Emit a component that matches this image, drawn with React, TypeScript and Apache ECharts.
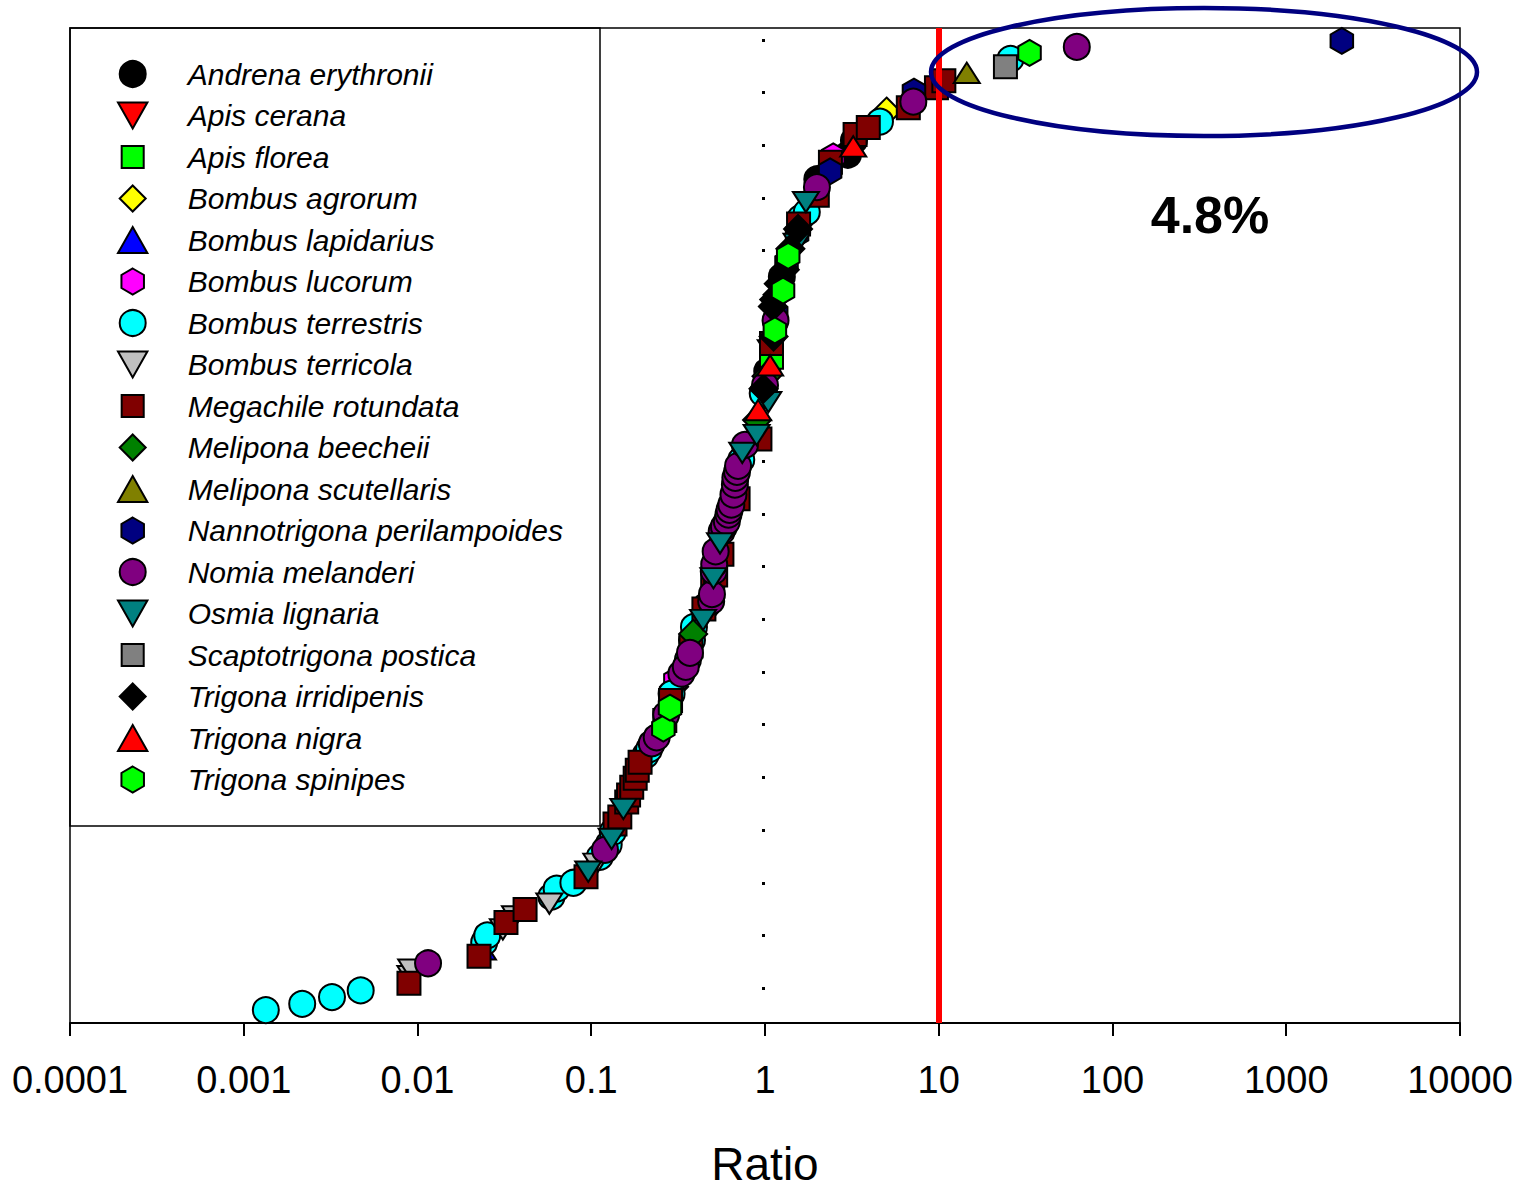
import React, { useEffect, useRef } from "react";
import * as echarts from "echarts";

// ---------- data ----------
const xTickLabels = ["0.0001", "0.001", "0.01", "0.1", "1", "10", "100", "1000", "10000"];
const yTicks = [5, 10, 15, 20, 25, 30, 35, 40, 45, 50, 55, 60, 65, 70, 75, 80, 85, 90, 95];
const threshold = 10;

const andrenaErythronii = [[1.03, 63.55], [1.25, 72.52], [2.0, 81.78], [3.0, 84.1], [3.25, 85.45]];
const apisCerana = [[1.08, 65.53]];
const apisFlorea = [[1.09, 64.87]];
const bombusAgrorum = [[0.3, 33.61], [5.01, 88.2]];
const bombusLapidarius = [[0.0238, 8.68]];
const bombusLucorum = [[0.305, 34.18], [2.47, 83.95]];
const bombusTerrestris = [
  [0.00134, 2.92], [0.00217, 3.51], [0.00322, 4.15], [0.00471, 4.78], [0.0242, 9.34], [0.0252, 10.0],
  [0.059, 13.68], [0.0632, 14.44], [0.0789, 15.0], [0.112, 17.46], [0.126, 18.64], [0.133, 19.82],
  [0.205, 27.09], [0.215, 27.66], [0.29, 32.95], [0.36, 36.16], [0.38, 38.05], [0.39, 39.28],
  [0.46, 41.3], [0.73, 55.14], [0.97, 61.47], [1.6, 78.09], [1.74, 78.66], [4.59, 87.25], [25.9, 93.2],
];
const bombusTerricola = [[0.0091, 6.13], [0.0092, 6.75], [0.031, 10.57], [0.0364, 11.8], [0.0574, 13.02], [0.107, 16.8]];
const megachileRotundata = [
  [0.00893, 5.47], [0.0226, 8.02], [0.0323, 11.23], [0.0416, 12.46], [0.0933, 15.57], [0.137, 20.58],
  [0.146, 21.24], [0.16, 22.66], [0.164, 23.32], [0.171, 24.07], [0.179, 24.92], [0.184, 25.68],
  [0.191, 26.43], [0.265, 30.4], [0.286, 32.29], [0.375, 37.48], [0.445, 40.98], [0.5, 43.15],
  [0.52, 44.2], [0.565, 46.17], [0.7, 51.46], [0.935, 57.13], [1.09, 66.19], [1.56, 77.53],
  [2.0, 80.26], [2.38, 83.38], [3.3, 86.02], [3.93, 86.69], [6.68, 88.57], [9.7, 90.46], [10.7, 91.13],
];
const meliponaBeecheii = [[0.386, 38.62], [0.9, 58.92], [1.02, 63.08]];
const meliponaScutellaris = [[14.5, 91.88]];
const nannotrigonaPerilampoides = [[1.16, 69.03], [1.33, 73.84], [1.53, 76.58], [2.37, 82.53], [7.2, 90.09], [2089, 94.9]];
const nomiaMelanderi = [
  [0.0115, 7.36], [0.12, 18.12], [0.223, 28.23], [0.238, 28.8], [0.27, 30.97], [0.33, 34.84],
  [0.35, 35.5], [0.37, 36.82], [0.49, 41.73], [0.495, 42.39], [0.507, 44.57], [0.51, 45.23],
  [0.52, 46.45], [0.563, 48.34], [0.58, 48.8], [0.603, 49.29], [0.616, 49.95], [0.625, 50.4],
  [0.64, 50.89], [0.658, 51.84], [0.671, 52.78], [0.675, 53.44], [0.69, 54.01], [0.7, 54.57],
  [0.767, 56.56], [1.0, 62.23], [1.15, 68.37], [1.99, 81.02], [7.14, 89.14], [62.3, 94.33],
];
const osmiaLignaria = [
  [0.0961, 16.05], [0.131, 19.16], [0.153, 22.0], [0.44, 39.94], [0.505, 43.9], [0.551, 47.21],
  [0.74, 55.8], [0.895, 57.5], [1.045, 60.62], [1.52, 75.64], [1.72, 79.6],
];
const scaptotrigonaPostica = [[24.2, 92.45]];
const trigonaIrridipenis = [[0.98, 61.9], [1.12, 66.85], [1.11, 69.69], [1.13, 70.35], [1.18, 70.8], [1.2, 71.86], [1.3, 73.18], [1.4, 75.17], [1.55, 77.05]];
const trigonaNigra = [[0.913, 59.87], [1.07, 64.11], [3.22, 84.89]];
const trigonaSpinipes = [[0.26, 29.64], [0.284, 31.63], [1.14, 67.42], [1.27, 71.2], [1.36, 74.5], [33.3, 93.77]];

// ---------- styling ----------
const FONT = "'Liberation Sans', Arial, Helvetica, sans-serif";
const HEX = "path://M0,-1L0.866,-0.5L0.866,0.5L0,1L-0.866,0.5L-0.866,-0.5Z";
const TRI_UP = "path://M13,0L26,23L0,23Z";
const TRI_DOWN = "path://M0,0L26,0L13,23Z";
const RECT = "path://M0,0L1,0L1,1L0,1Z";
const RECT_LEGEND = "path://M0,0L1,0L1,1L0,1Z M-0.09,-0.09L-0.09,-0.09 M1.09,1.09L1.09,1.09";
const DIAM = "path://M1,0L2,1L1,2L0,1Z";

type Sp = { name: string; data: number[][]; color: string; symbol: string; size: any; legendIcon?: string };

const species: Sp[] = [
  { name: "Andrena erythronii", data: andrenaErythronii, color: "#000000", symbol: "circle", size: 26 },
  { name: "Apis cerana", data: apisCerana, color: "#FF0000", symbol: TRI_DOWN, size: [26, 23] },
  { name: "Apis florea", data: apisFlorea, color: "#00FF00", symbol: RECT, size: 23, legendIcon: RECT_LEGEND },
  { name: "Bombus agrorum", data: bombusAgrorum, color: "#FFFF00", symbol: DIAM, size: 28 },
  { name: "Bombus lapidarius", data: bombusLapidarius, color: "#0000FF", symbol: TRI_UP, size: [26, 23] },
  { name: "Bombus lucorum", data: bombusLucorum, color: "#FF00FF", symbol: HEX, size: 26 },
  { name: "Bombus terrestris", data: bombusTerrestris, color: "#00FFFF", symbol: "circle", size: 26 },
  { name: "Bombus terricola", data: bombusTerricola, color: "#C0C0C0", symbol: TRI_DOWN, size: [26, 23] },
  { name: "Megachile rotundata", data: megachileRotundata, color: "#800000", symbol: RECT, size: 23, legendIcon: RECT_LEGEND },
  { name: "Melipona beecheii", data: meliponaBeecheii, color: "#008000", symbol: DIAM, size: 28 },
  { name: "Melipona scutellaris", data: meliponaScutellaris, color: "#808000", symbol: TRI_UP, size: [26, 23] },
  { name: "Nannotrigona perilampoides", data: nannotrigonaPerilampoides, color: "#000080", symbol: HEX, size: 26 },
  { name: "Nomia melanderi", data: nomiaMelanderi, color: "#800080", symbol: "circle", size: 26 },
  { name: "Osmia lignaria", data: osmiaLignaria, color: "#008080", symbol: TRI_DOWN, size: [26, 23] },
  { name: "Scaptotrigona postica", data: scaptotrigonaPostica, color: "#808080", symbol: RECT, size: 23, legendIcon: RECT_LEGEND },
  { name: "Trigona irridipenis", data: trigonaIrridipenis, color: "#000000", symbol: DIAM, size: 28 },
  { name: "Trigona nigra", data: trigonaNigra, color: "#FF0000", symbol: TRI_UP, size: [26, 23] },
  { name: "Trigona spinipes", data: trigonaSpinipes, color: "#00FF00", symbol: HEX, size: 26 },
];

export default function App() {
  const ref = useRef<HTMLDivElement>(null);
  useEffect(() => {
    if (!ref.current) return;
    const chart = echarts.init(ref.current, null, { renderer: "svg" });

    const series: any[] = species.map((s, i) => ({
      type: "scatter",
      name: s.name,
      data: s.data,
      symbol: s.symbol,
      symbolSize: s.size,
      symbolKeepAspect: true,
      itemStyle: { color: s.color, borderColor: "#000", borderWidth: 2, opacity: 1 },
      emphasis: { disabled: true },
      ...(i === species.length - 1
        ? {
            markLine: {
              silent: true,
              symbol: "none",
              label: { show: false },
              lineStyle: { color: "#FF0000", width: 6, type: "solid" },
              data: [{ xAxis: threshold }],
            },
          }
        : {}),
    }));

    chart.setOption({
      animation: false,
      backgroundColor: "#fff",
      textStyle: { fontFamily: FONT },
      grid: {
        left: 70,
        width: 1390,
        top: 28,
        height: 999,
        show: true,
        borderColor: "#000",
        borderWidth: 1.5,
        containLabel: false,
      },
      legend: {
        orient: "vertical",
        left: 117,
        top: 59,
        padding: 0,
        itemWidth: 100,
        itemHeight: 26,
        itemGap: 11.5,
        selectedMode: false,
        symbolKeepAspect: true,
        data: species.map((s) => (s.legendIcon ? { name: s.name, icon: s.legendIcon } : { name: s.name })),
        textStyle: { fontFamily: FONT, fontStyle: "italic", fontSize: 30, color: "#000", lineHeight: 30 },
      },
      xAxis: {
        type: "log",
        logBase: 10,
        min: 0.0001,
        max: 10000,
        name: "Ratio",
        nameLocation: "middle",
        nameGap: 118,
        nameTextStyle: { fontFamily: FONT, fontSize: 46, color: "#000" },
        axisLine: { show: true, lineStyle: { color: "#000", width: 2 } },
        axisTick: { show: true, inside: false, length: 13, lineStyle: { color: "#000", width: 2 } },
        minorTick: { show: false },
        axisLabel: {
          fontFamily: FONT,
          fontSize: 38,
          color: "#000",
          margin: 38,
          formatter: (v: number) => xTickLabels[Math.round(Math.log10(v)) + 4] ?? "",
        },
        splitLine: { show: false },
      },
      yAxis: {
        type: "value",
        min: 1.69,
        max: 96.13,
        position: "left",
        offset: -695,
        axisLine: { show: false },
        axisLabel: { show: false },
        splitLine: { show: false },
        axisTick: {
          show: true,
          length: 3,
          customValues: yTicks,
          lineStyle: { color: "#000", width: 3 },
        },
      },
      graphic: [
        {
          type: "rect",
          z: 1,
          silent: true,
          shape: { x: 70, y: 28, width: 530, height: 798 },
          style: { fill: "transparent", stroke: "#000", lineWidth: 1.5 },
        },
        {
          type: "ellipse",
          z: 10,
          silent: true,
          shape: { cx: 1204, cy: 72, rx: 273, ry: 64 },
          style: { fill: "transparent", stroke: "#000080", lineWidth: 4.5 },
        },
        {
          type: "text",
          z: 10,
          silent: true,
          x: 1210,
          y: 215,
          style: {
            text: "4.8%",
            fontFamily: FONT,
            fontWeight: "bold",
            fontSize: 52,
            fill: "#000",
            align: "center",
            verticalAlign: "middle",
          },
        },
      ],
      series,
    });
    return () => chart.dispose();
  }, []);
  return (
    <div
      ref={ref}
      style={{ position: "fixed", left: 0, top: 0, width: 1520, height: 1192, background: "#fff" }}
    />
  );
}
